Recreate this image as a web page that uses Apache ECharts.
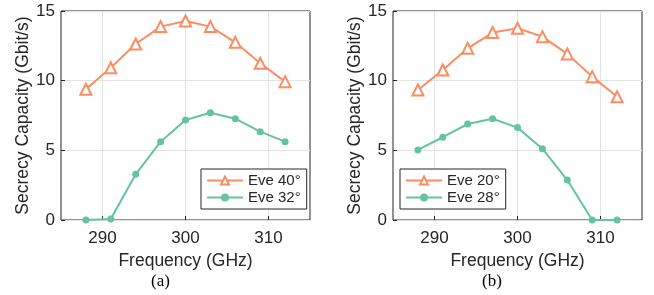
<!DOCTYPE html>
<html>
<head>
<meta charset="utf-8">
<script src="https://cdn.jsdelivr.net/npm/echarts@6/dist/echarts.min.js"></script>
<style>
  html, body { margin: 0; padding: 0; background: #fff; }
  #root { width: 654px; height: 295px; }
</style>
</head>
<body>
<div id="root"></div>
<script>
// frequency points (GHz)
var freqs = [288, 291, 294, 297, 300, 303, 306, 309, 312]
// panel (a)
var eve40 = [9.38, 10.93, 12.63, 13.88, 14.28, 13.88, 12.75, 11.25, 9.93]
var eve32 = [0, 0.07, 3.28, 5.62, 7.18, 7.70, 7.27, 6.34, 5.62]
// panel (b)
var eve20 = [9.33, 10.77, 12.32, 13.45, 13.76, 13.16, 11.92, 10.29, 8.85]
var eve28 = [5.03, 5.94, 6.89, 7.27, 6.63, 5.12, 2.87, 0, 0]
var xTicks = [290, 300, 310]

var orange = '#fc8d62'
var green = '#66c2a5'
var ink = '#262626'
var font = 'Liberation Sans'

function pairs (ys) {
    return freqs.map(function (f, i) { return [f, ys[i]] })
}

function xAxisFor (idx) {
    return {
        type: 'value', gridIndex: idx, min: 285, max: 315,
        name: 'Frequency (GHz)', nameLocation: 'middle', nameGap: 26,
        nameTextStyle: { color: ink, fontSize: 17.5, fontFamily: font },
        axisLine: { show: false },
        axisTick: { inside: true, length: 4, customValues: xTicks, lineStyle: { color: ink } },
        axisLabel: { customValues: xTicks, margin: 10, color: ink, fontSize: 17, fontFamily: font },
        splitLine: { show: true, lineStyle: { color: '#e3e3e3', width: 1 } }
    }
}

function yAxisFor (idx) {
    return {
        type: 'value', gridIndex: idx, min: 0, max: 15, interval: 5,
        name: 'Secrecy Capacity (Gbit/s)', nameLocation: 'middle', nameGap: 27,
        nameTextStyle: { color: ink, fontSize: 17.5, fontFamily: font },
        axisLine: { show: false },
        axisTick: { show: true, inside: true, length: 4, lineStyle: { color: ink } },
        axisLabel: { margin: 6, color: ink, fontSize: 17, fontFamily: font },
        splitLine: { show: true, lineStyle: { color: '#e3e3e3', width: 1 } }
    }
}

function triSeries (name, ys, idx) {
    return {
        name: name, type: 'line', xAxisIndex: idx, yAxisIndex: idx, data: pairs(ys),
        symbol: 'triangle', symbolSize: 11, showAllSymbol: true,
        lineStyle: { color: orange, width: 2 },
        itemStyle: { color: '#fff', borderColor: orange, borderWidth: 2 },
        animation: false
    }
}

function dotSeries (name, ys, idx) {
    return {
        name: name, type: 'line', xAxisIndex: idx, yAxisIndex: idx, data: pairs(ys),
        symbol: 'circle', symbolSize: 7, showAllSymbol: true,
        lineStyle: { color: green, width: 2 },
        itemStyle: { color: green, borderColor: green, borderWidth: 0 },
        animation: false
    }
}

function legendFor (names, left) {
    return {
        data: names, orient: 'vertical', left: left, top: 169,
        itemWidth: 36, itemHeight: 10, itemGap: 2, padding: [4, 6, 4, 5],
        backgroundColor: '#fff', borderColor: ink, borderWidth: 1,
        textStyle: { color: ink, fontSize: 15, fontFamily: font }
    }
}

var chart = echarts.init(document.getElementById('root'))
chart.setOption({
    animation: false,
    grid: [
        { left: 61, top: 11, width: 249, height: 209, show: true, borderColor: ink, borderWidth: 1 },
        { left: 393, top: 11, width: 249, height: 209, show: true, borderColor: ink, borderWidth: 1 }
    ],
    xAxis: [xAxisFor(0), xAxisFor(1)],
    yAxis: [yAxisFor(0), yAxisFor(1)],
    legend: [
        legendFor(['Eve 40°', 'Eve 32°'], 201),
        legendFor(['Eve 20°', 'Eve 28°'], 400)
    ],
    graphic: [
        { type: 'text', left: 151, top: 273, style: { text: '(a)', font: '17px "Liberation Serif"', fill: '#000' } },
        { type: 'text', left: 482, top: 273, style: { text: '(b)', font: '17px "Liberation Serif"', fill: '#000' } }
    ],
    series: [
        triSeries('Eve 40°', eve40, 0),
        dotSeries('Eve 32°', eve32, 0),
        triSeries('Eve 20°', eve20, 1),
        dotSeries('Eve 28°', eve28, 1)
    ]
})
</script>
</body>
</html>
